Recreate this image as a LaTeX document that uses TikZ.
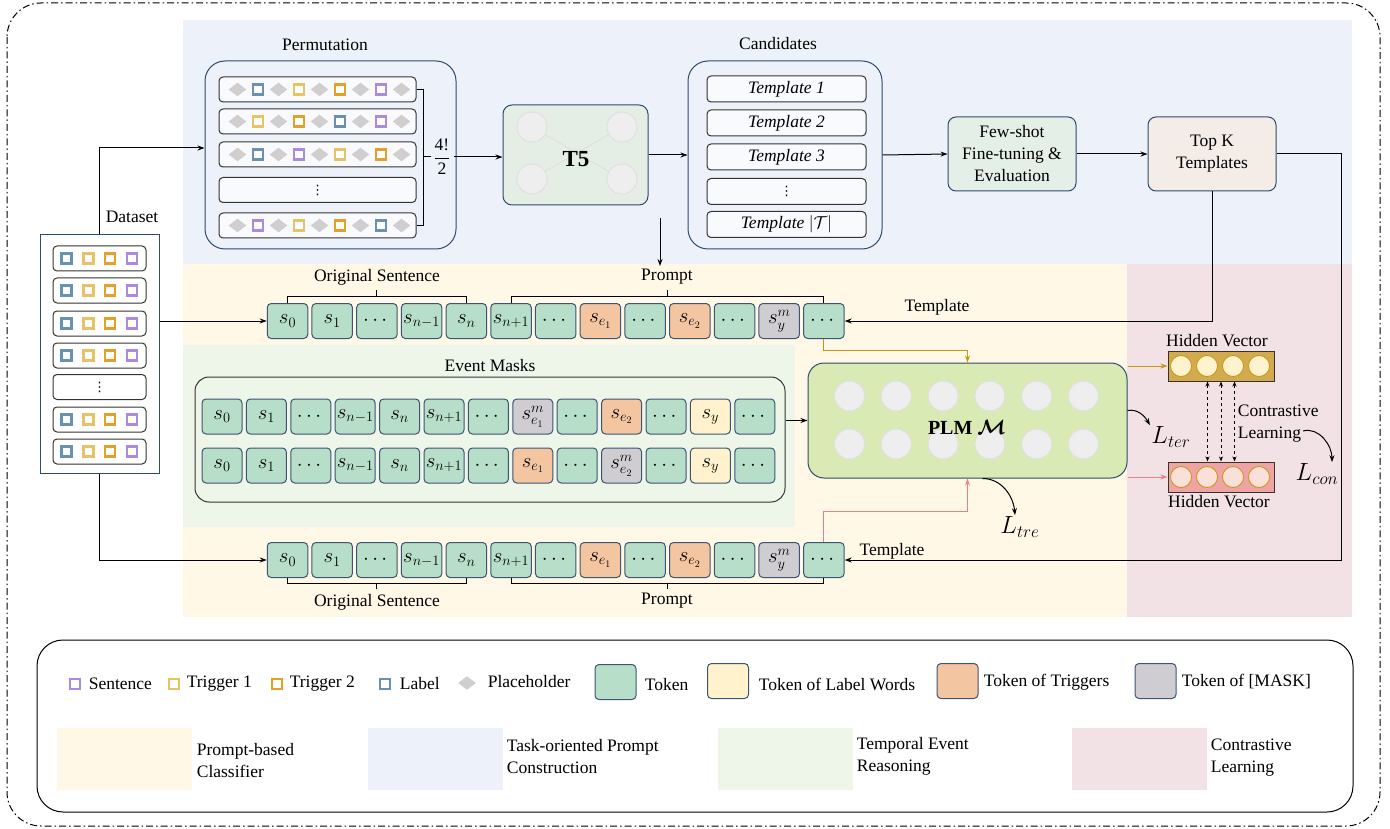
\documentclass[tikz,border=0pt]{standalone}
\usepackage{amsmath}
\usepackage{amssymb}
\usepackage{bm}
\usepackage{fontspec}
\setmainfont{Liberation Serif}
\newfontfamily\symfont{DejaVu Sans}
\usepackage{tikz}
\usetikzlibrary{shapes.geometric,arrows.meta,calc}
\definecolor{bgblue}{RGB}{237,242,250}
\definecolor{bgyellow}{RGB}{255,248,231}
\definecolor{bggreen}{RGB}{238,246,234}
\definecolor{bgpink}{RGB}{242,226,230}
\definecolor{tokgreen}{RGB}{183,222,201}
\definecolor{tokorange}{RGB}{244,197,161}
\definecolor{tokgray}{RGB}{207,205,209}
\definecolor{tokyellow}{RGB}{255,242,204}
\definecolor{tokline}{RGB}{61,85,114}
\definecolor{boxline}{RGB}{47,74,107}
\definecolor{sqpurple}{RGB}{169,139,227}
\definecolor{sqyellow}{RGB}{232,194,102}
\definecolor{sqorange}{RGB}{229,160,42}
\definecolor{sqblue}{RGB}{106,144,179}
\definecolor{diagray}{RGB}{208,206,206}
\definecolor{tfive}{RGB}{228,238,229}
\definecolor{fewfill}{RGB}{228,239,231}
\definecolor{topkfill}{RGB}{244,236,230}
\definecolor{plmfill}{RGB}{217,234,181}
\definecolor{circfill}{RGB}{238,238,238}
\definecolor{hvgold}{RGB}{212,170,79}
\definecolor{hvgoldc}{RGB}{255,242,206}
\definecolor{hvpink}{RGB}{239,163,163}
\definecolor{hvpinkc}{RGB}{249,224,216}
\definecolor{goldline}{RGB}{200,150,12}
\definecolor{pinkline}{RGB}{240,128,128}

\newcommand{\figtxt}{\fontsize{17.5}{22}\selectfont}
\newcommand{\tokfont}{\fontsize{20.5}{22}\selectfont}
\newcommand{\lossfont}{\fontsize{25}{27}\selectfont}
\newcommand{\vdotfont}{\symfont\fontsize{13}{13}\selectfont}

\tikzset{
  tok/.style={draw=tokline, fill=tokgreen, rounded corners=4pt, minimum width=40.5pt, minimum height=35pt, inner sep=0pt, font=\tokfont},
  trigtok/.style={tok, fill=tokorange},
  masktok/.style={tok, fill=tokgray},
  labtok/.style={tok, fill=tokyellow},
  rowbox/.style={draw=black!80, fill=white, rounded corners=4pt, minimum height=25pt, inner sep=0pt},
  bigbox/.style={draw=boxline, rounded corners=20pt, inner sep=0pt},
  sq/.style={draw=#1, line width=2.6pt, fill=white, minimum size=10pt, inner sep=0pt},
  dia/.style={diamond, fill=diagray, aspect=1.3, minimum width=18pt, minimum height=14pt, inner sep=0pt},
  ncirc/.style={circle, fill=circfill, draw=black!12, minimum size=30pt, inner sep=0pt},
  hcirc/.style={circle, minimum size=21pt, inner sep=0pt, line width=0.8pt},
  swatch/.style={minimum width=135pt, minimum height=62pt, inner sep=0pt},
}

\begin{document}
\begin{tikzpicture}[x=1pt,y=-1pt,line width=1pt,>={Stealth[length=7pt,width=5pt]},
    every node/.style={font=\figtxt}]
    \useasboundingbox (0,0) rectangle (1390,829);

    % background regions
    \fill[bgblue] (183,20) rectangle (1352,264);
    \fill[bgyellow] (183,264) rectangle (1127,617);
    \fill[bggreen] (183,345) rectangle (795,527);
    \fill[bgpink] (1127,264) rectangle (1352,617);
    \draw[dash pattern=on 7pt off 3pt on 1.5pt off 3pt, rounded corners=34pt] (7,3) rectangle (1380,826);

    % dataset
    \node[draw=boxline, fill=white, minimum width=119pt, minimum height=238pt, inner sep=0pt] (data) at (99.5,354) {};
    \node (datatitle) at (132,217) {Dataset};
    \foreach \i/\y in {1/258.5,2/290.5,3/323.5,4/355.5,6/419.5,7/451.5} {
        \node[rowbox, minimum width=93pt] (drow\i) at (99.5,\y) {};
        \foreach \c [count=\k] in {sqblue,sqyellow,sqorange,sqpurple}
            \node[sq=\c] (d\i-\k) at (45+21.7*\k,\y) {};
    }
    \node[rowbox, minimum width=93pt, font=\vdotfont] (drow5) at (99.5,387) {⋮};

    % permutation
    \node[bigbox, minimum width=251pt, minimum height=188pt] (perm) at (330.5,155) {};
    \node (permtitle) at (325,45) {Permutation};
    \foreach \i/\y/\ca/\cb/\cc/\cd in {1/89.5/sqblue/sqyellow/sqorange/sqpurple,
        2/121.5/sqyellow/sqorange/sqblue/sqpurple,
        3/154.5/sqblue/sqpurple/sqyellow/sqorange,
        5/225.5/sqpurple/sqyellow/sqorange/sqblue} {
        \node[rowbox, minimum width=197pt, fill=white!60!bgblue] (prow\i) at (317.5,\y) {};
        \foreach \k in {0,2,...,8}
            \node[dia] (p\i-\k) at (237.5+20.5*\k,\y) {};
        \foreach \c [count=\k] in {\ca,\cb,\cc,\cd}
            \node[sq=\c] (p\i-s\k) at (217+41*\k,\y) {};
    }
    \node[rowbox, minimum width=197pt, fill=white!60!bgblue, font=\vdotfont] (prow4) at (317.5,190) {⋮};
    \draw (prow1.east) -| ([xshift=7pt]prow5.east) -- (prow5.east);
    \draw (424,157) -- (431,157);
    \node (frac) at (442,157) {$\dfrac{\text{4!}}{\text{2}}$};

    % T5
    \node[draw=boxline, fill=tfive, rounded corners=9pt, minimum width=145pt, minimum height=100pt] (t5) at (575.5,155) {};
    \foreach \n/\x/\y in {a/532/127, b/622/127, c/532/179, d/622/179}
        \node[ncirc] (t5\n) at (\x,\y) {};
    \draw[black!12] (t5a) -- (t5d);
    \draw[black!12] (t5b) -- (t5c);
    \node[font=\bfseries\fontsize{23}{25}\selectfont] (t5lbl) at (576,159) {T5};

    % candidates
    \node[bigbox, minimum width=194pt, minimum height=188pt] (cand) at (785,155) {};
    \node (candtitle) at (778,44) {Candidates};
    \foreach \i/\y/\t in {1/89/{\textit{Template 1}}, 2/123/{\textit{Template 2}}, 3/157/{\textit{Template 3}},
        5/224.5/{\textit{Template} $|\mathcal{T}|$}}
        \node[rowbox, minimum width=159pt, minimum height=26pt, fill=white!60!bgblue] (crow\i) at (786.5,\y) {\t};
    \node[rowbox, minimum width=159pt, minimum height=26pt, fill=white!60!bgblue, font=\vdotfont] (crow4) at (786.5,191.5) {⋮};

    % selection
    \node[draw=boxline, fill=fewfill, rounded corners=8pt, minimum width=128pt, minimum height=74pt, align=center] (few) at (1012,154) {Few-shot\\Fine-tuning \&\\Evaluation};
    \node[draw=boxline, fill=topkfill, rounded corners=8pt, minimum width=128pt, minimum height=74pt, align=center] (topk) at (1212,154) {Top K\\Templates};

    \draw[->] (data.north) |- ([yshift=7pt]perm.west);
    \draw[->] (frac.east) -- (frac.east -| t5.west);
    \draw[->] (t5) -- (cand);
    \draw[->] (cand.east) -- (few.west);
    \draw[->] (few) -- (topk);
    \coordinate (dropfrom) at (660,218);
    \coordinate (dropto) at (660,266);
    \draw[->] (dropfrom) -- (dropto);

    % prompt rows
    \foreach \r/\y in {top/321, bot/560}
        \foreach \t/\s [count=\i from 0] in {s_0/tok, s_1/tok, \cdots/tok, s_{n-1}/tok, s_n/tok, s_{n+1}/tok, \cdots/tok,
            s_{e_1}/trigtok, \cdots/tok, s_{e_2}/trigtok, \cdots/tok, s_y^m/masktok, \cdots/tok}
            \node[\s] (\r\i) at (287.5+44.7*\i,\y) {$\t$};

    \draw (top0.north) -- ++(0,-7) -| (top4.north);
    \draw ([yshift=7pt]top2.north) -- ++(0,-6);
    \draw (top5.north) -- ++(0,-7) -| (top12.north);
    \draw ($(top8.north)!0.5!(top9.north)+(0,-7)$) -- ++(0,-6);
    \node (ostop) at (377,277) {Original Sentence};
    \node (prtop) at (667,277) {Prompt};

    \draw (bot0.south) -- ++(0,5) -| (bot4.south);
    \draw ([yshift=-5pt]bot2.south) -- ++(0,6);
    \draw (bot5.south) -- ++(0,5) -| (bot12.south);
    \draw ($(bot8.south)!0.5!(bot9.south)+(0,5)$) -- ++(0,6);
    \node (osbot) at (377,602) {Original Sentence};
    \node (prbot) at (667,601) {Prompt};

    \draw[->] (data.east |- top0) -- (top0);
    \draw[->] (data.south) |- (bot0.west);
    \draw[->] (topk.south) |- (top12.east);
    \node (tpltop) at (937,307) {Template};
    \coordinate (turn) at (1341,154);
    \draw[->] (topk.east) -- (turn) |- (bot12.east);
    \node (tplbot) at (892,551) {Template};

    % event masks
    \node[draw=black!80, rounded corners=14pt, minimum width=590pt, minimum height=125pt] (ev) at (490,439.5) {};
    \node (evtitle) at (490,366) {Event Masks};
    \foreach \t/\s [count=\i from 0] in {s_0/tok, s_1/tok, \cdots/tok, s_{n-1}/tok, s_n/tok, s_{n+1}/tok, \cdots/tok,
        s_{e_1}^m/masktok, \cdots/tok, s_{e_2}/trigtok, \cdots/tok, s_y/labtok, \cdots/tok}
        \node[\s, minimum width=40pt] (ea\i) at (222+44.4*\i,416.5) {$\t$};
    \foreach \t/\s [count=\i from 0] in {s_0/tok, s_1/tok, \cdots/tok, s_{n-1}/tok, s_n/tok, s_{n+1}/tok, \cdots/tok,
        s_{e_1}/trigtok, \cdots/tok, s_{e_2}^m/masktok, \cdots/tok, s_y/labtok, \cdots/tok}
        \node[\s, minimum width=40pt] (eb\i) at (222+44.4*\i,465.5) {$\t$};

    % PLM
    \node[draw=boxline, fill=plmfill, rounded corners=16pt, minimum width=319pt, minimum height=115pt] (plm) at (967.5,420.5) {};
    \foreach \x [count=\k] in {849.5,896.3,943.1,989.9,1036.7,1083.5} {
        \node[ncirc] (pa\k) at (\x,396) {};
        \node[ncirc] (pb\k) at (\x,444) {};
    }
    \node[font=\bfseries\fontsize{20}{22}\selectfont] (plmlbl) at (967,427) {PLM $\bm{\mathcal{M}}$};
    \draw[->] (ev.east |- plm.west) -- (plm.west);
    \draw[->, color=goldline] (top12.south) -- ++(0,11) -| (plm.north);
    \draw[->, color=pinkline] (bot12.north) -- ++(0,-31) -| (plm.south);

    % hidden vectors
    \node[draw=black!80, fill=hvgold, minimum width=106pt, minimum height=30pt, inner sep=0pt] (hvtop) at (1221,366) {};
    \node[draw=black!80, fill=hvpink, minimum width=106pt, minimum height=30pt, inner sep=0pt] (hvbot) at (1221,477) {};
    \foreach \x [count=\k] in {1181,1207,1233,1259} {
        \node[hcirc, fill=hvgoldc, draw=goldline] (ht\k) at (\x,366) {};
        \node[hcirc, fill=hvpinkc, draw=goldline] (hb\k) at (\x,477) {};
    }
    \node (hvtoplbl) at (1217,341) {Hidden Vector};
    \node (hvbotlbl) at (1219,502) {Hidden Vector};
    \draw[->, color=goldline] (plm.east |- hvtop.west) -- (hvtop.west);
    \draw[->, color=pinkline] (plm.east |- hvbot.west) -- (hvbot.west);
    \foreach \dx in {-13.5,0,13.5}
        \draw[<->, dashed, line width=0.8pt, >={Stealth[length=5pt,width=4pt]}] ([xshift=\dx pt]hvtop.south) -- ([xshift=\dx pt]hvbot.north);
    \node[align=left, anchor=west] (cl) at (1234,424) {Contrastive\\Learning};

    % losses
    \node[font=\lossfont, inner sep=1pt] (lter) at (1171,437) {$L_{ter}$};
    \node[font=\lossfont, inner sep=1pt] (ltre) at (1020,527) {$L_{tre}$};
    \node[font=\lossfont, inner sep=1pt] (lcon) at (1317,474) {$L_{con}$};
    \draw[->] ([yshift=10pt]plm.east) to[out=10,in=120] (lter.north west);
    \draw[->] ([xshift=15pt]plm.south) to[out=0,in=95] ([xshift=-5pt]ltre.north);
    \coordinate (lconfrom) at (1303,431);
    \draw[->] (lconfrom) to[out=15,in=90] ([xshift=15pt]lcon.north);

    % legend
    \node[draw, rounded corners=26pt, minimum width=1316pt, minimum height=172pt] (legend) at (695,726) {};
    \node[sq=sqpurple] (lsen) at (75,684) {};
    \node[anchor=west] (lsentxt) at (85,684) {Sentence};
    \node[sq=sqyellow] (ltri1) at (174,684) {};
    \node[anchor=west] (ltri1txt) at (183,684) {Trigger 1};
    \node[sq=sqorange] (ltri2) at (277,684) {};
    \node[anchor=west] (ltri2txt) at (286,684) {Trigger 2};
    \node[sq=sqblue] (llab) at (385,684) {};
    \node[anchor=west] (llabtxt) at (396,684) {Label};
    \node[dia] (lph) at (467,683) {};
    \node[anchor=west] (lphtxt) at (484,682) {Placeholder};
    \node[tok, minimum width=41pt] (ltok) at (615.5,682) {};
    \node[anchor=west] (ltoktxt) at (641,685) {Token};
    \node[labtok, minimum width=41pt] (llw) at (728,681) {};
    \node[anchor=west] (llwtxt) at (755,684) {Token of Label Words};
    \node[trigtok, minimum width=41pt] (ltrg) at (957.5,681) {};
    \node[anchor=west] (ltrgtxt) at (980,682) {Token of Triggers};
    \node[masktok, minimum width=41pt] (lmsk) at (1155.5,681) {};
    \node[anchor=west] (lmsktxt) at (1178,682) {Token of [MASK]};

    \node[swatch, fill=bgyellow] (swpc) at (124.5,759) {};
    \node[anchor=west, align=left] (swpctxt) at (193,761) {Prompt-based\\Classifier};
    \node[swatch, fill=bgblue] (swtp) at (435.5,759) {};
    \node[anchor=west, align=left] (swtptxt) at (503,757) {Task-oriented Prompt\\Construction};
    \node[swatch, fill=bggreen] (swte) at (785.5,759) {};
    \node[anchor=west, align=left] (swtetxt) at (853,756) {Temporal Event\\Reasoning};
    \node[swatch, fill=bgpink] (swcl) at (1139.5,759) {};
    \node[anchor=west, align=left] (swcltxt) at (1207,758) {Contrastive\\Learning};
\end{tikzpicture}
\end{document}
